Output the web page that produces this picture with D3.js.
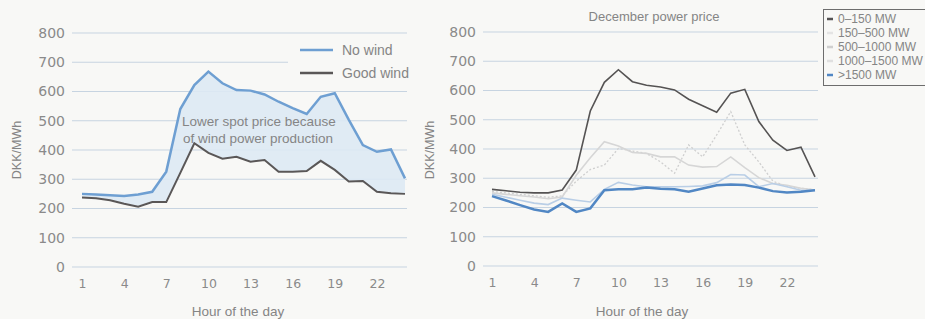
<!DOCTYPE html>
<html>
<head>
<meta charset="utf-8">
<script src="https://cdn.jsdelivr.net/npm/d3@7"></script>
<style>
  body { margin: 0; background: #f8f8f6; }
  svg { display: block; }
  .tick text { fill: #8a8a8a; font-family: "DejaVu Sans", sans-serif; }
  .lbl { fill: #858585; font-family: "Liberation Sans", Arial, sans-serif; }
</style>
</head>
<body>
<div id="chart"></div>
<script>
// hours of the day
var hours = [1,2,3,4,5,6,7,8,9,10,11,12,13,14,15,16,17,18,19,20,21,22,23,24];
var xTicks = [1,4,7,10,13,16,19,22];
var yTicks = [0,100,200,300,400,500,600,700,800];

// left chart: spot price, DKK/MWh
var noWind   = [250,248,245,243,248,257,326,540,622,668,628,605,603,590,565,543,523,582,594,503,417,394,402,303];
var goodWind = [238,235,228,216,206,222,222,322,423,390,370,377,360,366,326,326,328,363,332,292,294,257,252,250];

// right chart: December power price by wind production
var windNames = ["0\u2013150 MW","150\u2013500 MW","500\u20131000 MW","1000\u20131500 MW",">1500 MW"];
var mw0   = [262,257,252,250,250,260,328,530,628,671,630,618,612,602,570,548,526,591,604,494,430,395,406,305];
var mw150 = [255,250,245,240,235,240,290,330,345,402,393,385,356,317,414,373,448,528,414,356,290,272,266,260];
var mw500 = [250,245,240,236,230,236,310,370,425,410,388,385,373,373,345,338,340,373,336,302,282,276,266,260];
var mw1000= [245,235,225,215,210,232,225,219,262,286,277,271,271,271,272,274,285,313,311,271,282,271,259,259];
var mw1500= [239,224,208,193,185,214,185,197,259,262,262,268,264,262,254,265,276,279,277,268,256,251,254,259];

var svgWidth = 925, svgHeight = 319;

var svg = d3.select("#chart").append("svg")
  .attr("width", svgWidth)
  .attr("height", svgHeight);

// draws gridlines and axes for one panel, returns scales
function panel(opt) {
  var x = d3.scaleLinear().domain([1, 24]).range([opt.x0, opt.x1]);
  var y = d3.scaleLinear().domain([0, 800]).range([opt.yBottom, opt.yTop]);

  var g = svg.append("g");
  g.selectAll("line.grid").data(yTicks).enter().append("line")
    .attr("class", "grid")
    .attr("x1", opt.gx0).attr("x2", opt.gx1)
    .attr("y1", d => y(d)).attr("y2", d => y(d))
    .attr("stroke", "#c7d4e1")
    .attr("stroke-width", 1);

  var yAxis = g.append("g")
    .attr("transform", `translate(${opt.gx0 - 7},0)`)
    .call(d3.axisLeft(y).tickValues(yTicks).tickSize(0).tickPadding(0));
  yAxis.select(".domain").remove();
  yAxis.selectAll("text").attr("font-size", 14).attr("fill", "#8a8a8a");

  var xAxis = g.append("g")
    .attr("transform", `translate(0,${opt.yBottom + 12})`)
    .call(d3.axisBottom(x).tickValues(xTicks).tickSize(0).tickPadding(0));
  xAxis.select(".domain").remove();
  xAxis.selectAll("text").attr("font-size", 12.5).attr("fill", "#8f8f8f");

  g.append("text").attr("class", "lbl")
    .attr("transform", `translate(${opt.yLabelX},150) rotate(-90)`)
    .attr("text-anchor", "middle").attr("dy", "0.35em")
    .attr("font-size", 12.5)
    .text("DKK/MWh");

  g.append("text").attr("class", "lbl")
    .attr("x", opt.xLabelX).attr("y", 316)
    .attr("text-anchor", "middle")
    .attr("font-size", 13.5)
    .text("Hour of the day");

  return { x: x, y: y, g: g };
}

// ---------- left chart ----------
var L = panel({ x0: 82, x1: 405, gx0: 72, gx1: 407, yTop: 33, yBottom: 267, yLabelX: 17, xLabelX: 238 });

// legend background hides part of the 700 gridline
L.g.append("rect")
  .attr("x", 288).attr("y", 37).attr("width", 124).attr("height", 48)
  .attr("fill", "#f8f8f6");

var area = d3.area()
  .x((d, i) => L.x(hours[i]))
  .y0((d, i) => L.y(goodWind[i]))
  .y1(d => L.y(d));

L.g.append("path")
  .datum(noWind)
  .attr("d", area)
  .attr("fill", "#dde9f4")
  .attr("opacity", 0.9);

var lineL = d3.line().x((d, i) => L.x(hours[i])).y(d => L.y(d));

L.g.append("path").datum(goodWind).attr("d", lineL)
  .attr("fill", "none").attr("stroke", "#5a5757").attr("stroke-width", 2);
L.g.append("path").datum(noWind).attr("d", lineL)
  .attr("fill", "none").attr("stroke", "#6e9fd2").attr("stroke-width", 2.5);

// annotation, two lines
L.g.append("text").attr("class", "lbl")
  .attr("x", 182).attr("y", 126).attr("font-size", 13.5).attr("fill", "#8c8c8c")
  .text("Lower spot price because");
L.g.append("text").attr("class", "lbl")
  .attr("x", 183).attr("y", 143).attr("font-size", 13.5).attr("fill", "#8c8c8c")
  .text("of wind power production");

var legL = [["No wind", "#6e9fd2", 50], ["Good wind", "#5a5757", 73]];
legL.forEach(function(l) {
  L.g.append("line")
    .attr("x1", 300).attr("x2", 333).attr("y1", l[2]).attr("y2", l[2])
    .attr("stroke", l[1]).attr("stroke-width", 2.5);
  L.g.append("text").attr("class", "lbl")
    .attr("x", 342).attr("y", l[2]).attr("dy", "0.35em")
    .attr("font-size", 14).attr("fill", "#7a7a7a")
    .text(l[0]);
});

// ---------- right chart ----------
var R = panel({ x0: 492, x1: 815, gx0: 483, gx1: 818, yTop: 32, yBottom: 266, yLabelX: 430, xLabelX: 642 });

R.g.append("text").attr("class", "lbl")
  .attr("x", 654).attr("y", 21).attr("text-anchor", "middle")
  .attr("font-size", 13).attr("fill", "#7c7c7c")
  .text("December power price");

var series = [
  { name: windNames[1], values: mw150, color: "#cfcfcf", width: 1.3, dash: "2,2" },
  { name: windNames[2], values: mw500, color: "#d6d6d6", width: 1.6, dash: null },
  { name: windNames[3], values: mw1000, color: "#b9cee6", width: 1.6, dash: null },
  { name: windNames[4], values: mw1500, color: "#5187c4", width: 2.5, dash: null },
  { name: windNames[0], values: mw0, color: "#555353", width: 1.6, dash: null }
];

var lineR = d3.line().x((d, i) => R.x(hours[i])).y(d => R.y(d));

R.g.selectAll("path.series").data(series).enter().append("path")
  .attr("class", "series")
  .attr("d", d => lineR(d.values))
  .attr("fill", "none")
  .attr("stroke", d => d.color)
  .attr("stroke-width", d => d.width)
  .attr("stroke-dasharray", d => d.dash);

// legend box
var legR = svg.append("g");
legR.append("rect")
  .attr("x", 823.5).attr("y", 9.5).attr("width", 110).attr("height", 76)
  .attr("fill", "#f8f8f6").attr("stroke", "#6d6d6d").attr("stroke-width", 1);

var legColors = ["#555353", "#e4e4e4", "#cfcfcf", "#e0e0e0", "#5187c4"];
var legY = [19, 33, 47, 61, 75];
windNames.forEach(function(n, i) {
  legR.append("line")
    .attr("x1", 827).attr("x2", 833).attr("y1", legY[i]).attr("y2", legY[i])
    .attr("stroke", legColors[i]).attr("stroke-width", 2.5);
  legR.append("text").attr("class", "lbl")
    .attr("x", 838).attr("y", legY[i]).attr("dy", "0.35em")
    .attr("font-size", 12).attr("fill", "#6a6a6a")
    .text(n);
});
</script>
</body>
</html>
